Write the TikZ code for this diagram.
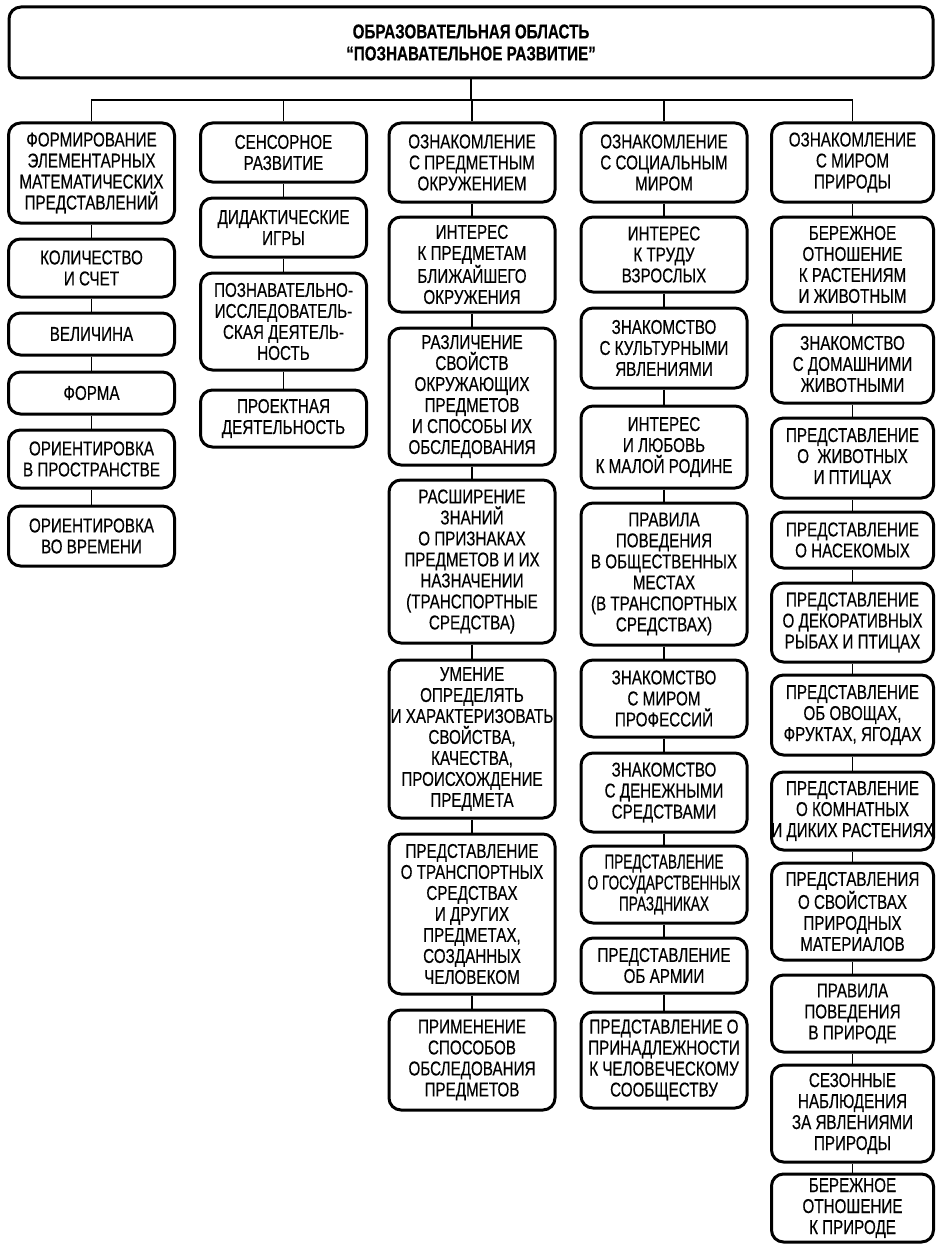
\documentclass[tikz,border=0pt]{standalone}
\usepackage{fontspec}
\setmainfont{Liberation Sans}[FakeStretch=0.76,FakeBold=0.4]
\newfontfamily\narrowf{Liberation Sans}[FakeStretch=0.68,FakeBold=0.4]
\newcommand\fnt{\fontsize{20}{21}\selectfont}
\newcommand\wl[1]{\makebox[150pt]{#1}}
\tikzset{
  bx/.style={draw, line width=3pt, rounded corners=12pt, minimum width=166pt,
    inner sep=0pt, align=center, font=\fnt, fill=white},
  bh/.style={minimum height=#1 pt},
  conn/.style={draw, line width=1.6pt}
}
\begin{document}
\begin{tikzpicture}[x=1pt,y=-1pt]
\useasboundingbox (0,0) rectangle (935,1244);
% title
\node[bx, minimum width=924pt, bh=71, font=\fontsize{20}{22}\selectfont\bfseries] (top) at (471,42.5)
  {ОБРАЗОВАТЕЛЬНАЯ ОБЛАСТЬ\\“ПОЗНАВАТЕЛЬНОЕ РАЗВИТИЕ”};
\coordinate (bus) at (471,100);
% column 1
\node[bx,bh=100] (c1a) at (91.5,173) {ФОРМИРОВАНИЕ\\ЭЛЕМЕНТАРНЫХ\\МАТЕМАТИЧЕСКИХ\\ПРЕДСТАВЛЕНИЙ};
\node[bx,bh=58] (c1b) at (91.5,268) {КОЛИЧЕСТВО\\И СЧЕТ};
\node[bx,bh=42] (c1c) at (91.5,334) {ВЕЛИЧИНА};
\node[bx,bh=42] (c1d) at (91.5,393) {ФОРМА};
\node[bx,bh=58] (c1e) at (91.5,459) {ОРИЕНТИРОВКА\\В ПРОСТРАНСТВЕ};
\node[bx,bh=60] (c1f) at (91.5,536) {ОРИЕНТИРОВКА\\ВО ВРЕМЕНИ};
% column 2
\node[bx,bh=59] (c2a) at (283.5,152.5) {СЕНСОРНОЕ\\РАЗВИТИЕ};
\node[bx,bh=59] (c2b) at (283.5,227.5) {ДИДАКТИЧЕСКИЕ\\ИГРЫ};
\node[bx,bh=97] (c2c) at (283.5,321.5) {ПОЗНАВАТЕЛЬНО-\\ИССЛЕДОВАТЕЛЬ-\\СКАЯ ДЕЯТЕЛЬ-\\НОСТЬ};
\node[bx,bh=57] (c2d) at (283.5,418.5) {ПРОЕКТНАЯ\\ДЕЯТЕЛЬНОСТЬ};
% column 3
\node[bx,bh=79] (c3a) at (472,162.5) {ОЗНАКОМЛЕНИЕ\\С ПРЕДМЕТНЫМ\\ОКРУЖЕНИЕМ};
\node[bx,bh=95] (c3b) at (472,264.5) {ИНТЕРЕС\\К ПРЕДМЕТАМ\\БЛИЖАЙШЕГО\\ОКРУЖЕНИЯ};
\node[bx,bh=137] (c3c) at (472,396.5) {РАЗЛИЧЕНИЕ\\СВОЙСТВ\\ОКРУЖАЮЩИХ\\ПРЕДМЕТОВ\\И СПОСОБЫ ИХ\\ОБСЛЕДОВАНИЯ};
\node[bx,bh=163] (c3d) at (472,561.5) {РАСШИРЕНИЕ\\ЗНАНИЙ\\О ПРИЗНАКАХ\\ПРЕДМЕТОВ И ИХ\\НАЗНАЧЕНИИ\\(ТРАНСПОРТНЫЕ\\СРЕДСТВА)};
\node[bx,bh=158] (c3e) at (472,739) {УМЕНИЕ\\ОПРЕДЕЛЯТЬ\\\wl{И ХАРАКТЕРИЗОВАТЬ}\\СВОЙСТВА,\\КАЧЕСТВА,\\ПРОИСХОЖДЕНИЕ\\ПРЕДМЕТА};
\node[bx,bh=160] (c3f) at (472,914) {ПРЕДСТАВЛЕНИЕ\\О ТРАНСПОРТНЫХ\\СРЕДСТВАХ\\И ДРУГИХ\\ПРЕДМЕТАХ,\\СОЗДАННЫХ\\ЧЕЛОВЕКОМ};
\node[bx,bh=100] (c3g) at (472,1060) {ПРИМЕНЕНИЕ\\СПОСОБОВ\\ОБСЛЕДОВАНИЯ\\ПРЕДМЕТОВ};
% column 4
\node[bx,bh=79] (c4a) at (664,162.5) {ОЗНАКОМЛЕНИЕ\\С СОЦИАЛЬНЫМ\\МИРОМ};
\node[bx,bh=75] (c4b) at (664,254.5) {ИНТЕРЕС\\К ТРУДУ\\ВЗРОСЛЫХ};
\node[bx,bh=80] (c4c) at (664,348) {ЗНАКОМСТВО\\С КУЛЬТУРНЫМИ\\ЯВЛЕНИЯМИ};
\node[bx,bh=82] (c4d) at (664,447) {ИНТЕРЕС\\И ЛЮБОВЬ\\К МАЛОЙ РОДИНЕ};
\node[bx,bh=142] (c4e) at (664,574) {ПРАВИЛА\\ПОВЕДЕНИЯ\\В ОБЩЕСТВЕННЫХ\\МЕСТАХ\\(В ТРАНСПОРТНЫХ\\СРЕДСТВАХ)};
\node[bx,bh=77] (c4f) at (664,698.5) {ЗНАКОМСТВО\\С МИРОМ\\ПРОФЕССИЙ};
\node[bx,bh=79] (c4g) at (664,792.5) {ЗНАКОМСТВО\\С ДЕНЕЖНЫМИ\\СРЕДСТВАМИ};
\node[bx,bh=77,font=\fnt\narrowf] (c4h) at (664,884.5) {ПРЕДСТАВЛЕНИЕ\\О ГОСУДАРСТВЕННЫХ\\ПРАЗДНИКАХ};
\node[bx,bh=55] (c4i) at (664,965.5) {ПРЕДСТАВЛЕНИЕ\\ОБ АРМИИ};
\node[bx,bh=96] (c4j) at (664,1060) {ПРЕДСТАВЛЕНИЕ О\\ПРИНАДЛЕЖНОСТИ\\К ЧЕЛОВЕЧЕСКОМУ\\СООБЩЕСТВУ};
% column 5
\tikzset{c5/.style={bx,minimum width=162pt}}
\node[c5,bh=79] (c5a) at (852.5,162.5) {ОЗНАКОМЛЕНИЕ\\С МИРОМ\\ПРИРОДЫ};
\node[c5,bh=95] (c5b) at (852.5,264.5) {БЕРЕЖНОЕ\\ОТНОШЕНИЕ\\К РАСТЕНИЯМ\\И ЖИВОТНЫМ};
\node[c5,bh=78] (c5c) at (852.5,364) {ЗНАКОМСТВО\\С ДОМАШНИМИ\\ЖИВОТНЫМИ};
\node[c5,bh=80] (c5d) at (852.5,458) {ПРЕДСТАВЛЕНИЕ\\О\ \ ЖИВОТНЫХ\\И ПТИЦАХ};
\node[c5,bh=56] (c5e) at (852.5,540) {ПРЕДСТАВЛЕНИЕ\\О НАСЕКОМЫХ};
\node[c5,bh=79] (c5f) at (852.5,622.5) {ПРЕДСТАВЛЕНИЕ\\О ДЕКОРАТИВНЫХ\\РЫБАХ И ПТИЦАХ};
\node[c5,bh=80] (c5g) at (852.5,715) {ПРЕДСТАВЛЕНИЕ\\ОБ ОВОЩАХ,\\ФРУКТАХ, ЯГОДАХ};
\node[c5,bh=78] (c5h) at (852.5,811) {ПРЕДСТАВЛЕНИЕ\\О КОМНАТНЫХ\\\wl{И ДИКИХ РАСТЕНИЯХ}};
\node[c5,bh=97] (c5i) at (852.5,911.5) {ПРЕДСТАВЛЕНИЯ\\О СВОЙСТВАХ\\ПРИРОДНЫХ\\МАТЕРИАЛОВ};
\node[c5,bh=77] (c5j) at (852.5,1013.5) {ПРАВИЛА\\ПОВЕДЕНИЯ\\В ПРИРОДЕ};
\node[c5,bh=97] (c5k) at (852.5,1113.5) {СЕЗОННЫЕ\\НАБЛЮДЕНИЯ\\ЗА ЯВЛЕНИЯМИ\\ПРИРОДЫ};
\node[c5,bh=68] (c5l) at (852.5,1208) {БЕРЕЖНОЕ\\ОТНОШЕНИЕ\\К ПРИРОДЕ};
% connectors
\draw[conn] (top.south) -- (bus);
\foreach \h in {c1a,c2a,c3a,c4a,c5a} \draw[conn] (\h.north) |- (bus);
\foreach \a/\b in {c1a/c1b,c1b/c1c,c1c/c1d,c1d/c1e,c1e/c1f,
  c2a/c2b,c2b/c2c,c2c/c2d,
  c3a/c3b,c3b/c3c,c3c/c3d,c3d/c3e,c3e/c3f,c3f/c3g,
  c4a/c4b,c4b/c4c,c4c/c4d,c4d/c4e,c4e/c4f,c4f/c4g,c4g/c4h,c4h/c4i,c4i/c4j,
  c5a/c5b,c5b/c5c,c5c/c5d,c5d/c5e,c5e/c5f,c5f/c5g,c5g/c5h,c5h/c5i,c5i/c5j,c5j/c5k,c5k/c5l}
  \draw[conn] (\a.south) -- (\b.north);
\end{tikzpicture}
\end{document}
